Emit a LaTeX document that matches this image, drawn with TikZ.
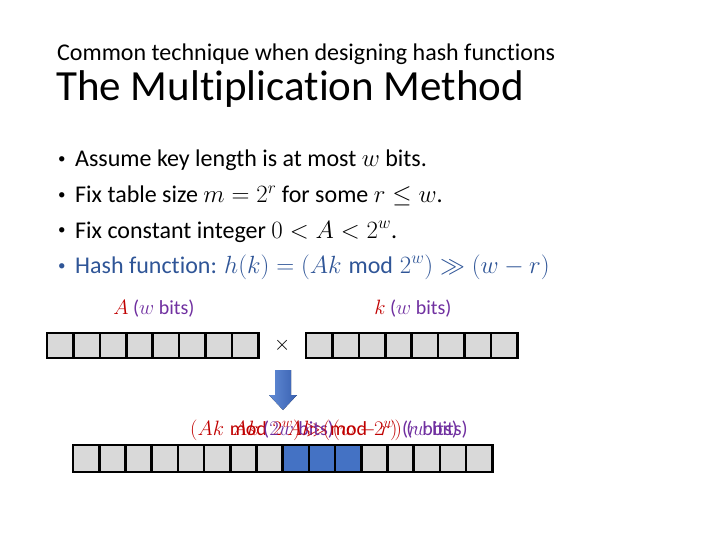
\documentclass[tikz,border=0pt]{standalone}
\usepackage{amsmath,amssymb}
\usepackage{fontspec}
\setmainfont[Ligatures=NoCommon]{Carlito}
\usepackage{tikz}
\usetikzlibrary{calc,positioning}
\definecolor{keyred}{RGB}{192,0,0}
\definecolor{bitpurple}{RGB}{112,48,160}
\definecolor{hashblue}{RGB}{47,85,151}
\definecolor{cellgray}{RGB}{217,217,217}
\definecolor{cellblue}{RGB}{68,114,196}
\definecolor{arrowlight}{RGB}{98,140,214}
\definecolor{arrowdark}{RGB}{56,96,176}
\tikzset{
  cell/.style={draw=black, fill=cellgray, line width=2.6pt, inner sep=0pt,
               minimum width=26.4pt, minimum height=25pt},
  wcell/.style={cell, minimum width=26.2pt, minimum height=27pt},
  hcell/.style={wcell, fill=cellblue},
  bitlabel/.style={font=\fontsize{20}{22}\selectfont, inner sep=0pt},
  bullet/.style={font=\fontsize{24}{26}\selectfont, inner sep=0pt, anchor=base west},
  dot/.style={font=\fontsize{15}{16}\selectfont, inner sep=0pt, anchor=base west},
  blockarrow/.style={left color=arrowlight, right color=arrowdark},
}

\begin{document}
\begin{tikzpicture}[x=1pt,y=-1pt]
  \useasboundingbox (0,0) rectangle (720,540);
  % baslik
  \node[inner sep=0pt, anchor=base west, font=\fontsize{24}{26}\selectfont]
    (sub) at (57,61) {Common technique when designing hash functions};
  \node[inner sep=0pt, anchor=base west, font=\fontsize{43}{48}\selectfont]
    (title) at (56,101) {The Multiplication Method};
  % maddeler
  \foreach \y/\t [count=\n] in {
      167/{Assume key length is at most $w$ bits.},
      203/{Fix table size $m=2^r$ for some $r\le w$.},
      238/{Fix constant integer $0<A<2^w$.}}{
    \node[dot] (d\n) at (58,\y-3) {\textbullet};
    \node[bullet] (b\n) at (75,\y) {\t};
  }
  \node[dot, hashblue] (d4) at (58,270) {\textbullet};
  \node[bullet, hashblue] (b4) at (75,273)
    {Hash function: $h(k)=(Ak\bmod 2^w)\gg(w-r)$};
  % A ve k satirlari
  \foreach \i in {1,...,8}{
    \node[cell] (a\i) at ({47+13.2+26.4*(\i-1)},345.5) {};
    \node[cell] (k\i) at ({306+13.2+26.4*(\i-1)},345.5) {};
  }
  \node[bitlabel, above=14pt of a4.north east]
    (alab) {\textcolor{keyred}{$A$} \textcolor{bitpurple}{($w$ bits)}};
  \node[bitlabel, above=14pt of k4.north east]
    (klab) {\textcolor{keyred}{$k$} \textcolor{bitpurple}{($w$ bits)}};
  \node[inner sep=0pt, font=\fontsize{22}{24}\selectfont] (times)
    at ($(a8.east)!0.5!(k1.west)$) {$\times$};
  % ok
  \fill[blockarrow] (275,370) -- (291,370) -- (291,395) -- (297,395)
    -- (283,410) -- (269,395) -- (275,395) -- cycle;
  % sonuc satiri, (w-r)..w arasi vurgulu
  \foreach \i in {1,...,16}{
    \ifnum\i>8 \ifnum\i<12 \def\cs{hcell}\else\def\cs{wcell}\fi\else\def\cs{wcell}\fi
    \node[\cs] (p\i) at ({73+13.1+26.2*(\i-1)},458.5) {};
  }
  % ust uste binen etiketler
  \node[bitlabel, anchor=base west] (plab1) at (190,435)
    {\textcolor{keyred}{$(Ak\bmod 2^w)\gg(w-r)$} \textcolor{bitpurple}{($r$ bits)}};
  \node[bitlabel, anchor=base west] (plab2) at (232,435)
    {\textcolor{keyred}{$Ak$} \textcolor{bitpurple}{($2w$ bits)}};
  \node[bitlabel, anchor=base east] (plab3) at (468,435)
    {\textcolor{keyred}{$Ak\pmod{2^w}$} \textcolor{bitpurple}{($w$ bits)}};
\end{tikzpicture}
\end{document}
